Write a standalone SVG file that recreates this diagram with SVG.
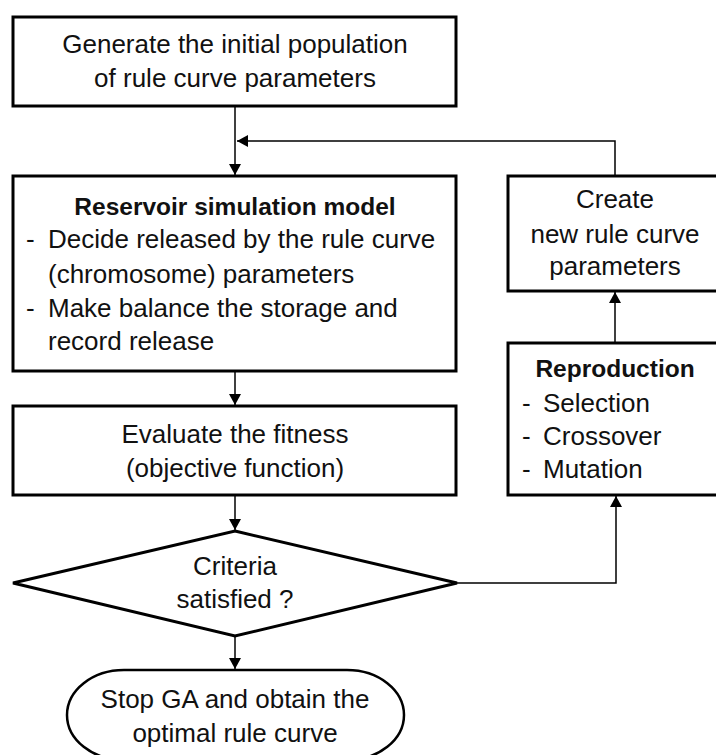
<svg xmlns="http://www.w3.org/2000/svg" width="716" height="755" viewBox="0 0 716 755">
<style>
.box{fill:#fff;stroke:#000;stroke-width:3}
.t{font-family:"Liberation Sans",Arial,sans-serif;font-size:26px;fill:#111}
.c{text-anchor:middle}
.b{font-weight:bold;font-size:24.5px}
.con{fill:none;stroke:#000;stroke-width:1.5}
</style>
<defs>
<marker id="ah" markerUnits="userSpaceOnUse" markerWidth="12" markerHeight="12" refX="11" refY="6" orient="auto">
<path d="M0,0 L11,6 L0,12 Z" fill="#000"/>
</marker>
</defs>
<rect width="716" height="755" fill="#fff"/>
<g id="connectors">
<path class="con" d="M235,106 V175" marker-end="url(#ah)"/>
<path class="con" d="M615,176 V141 H237" marker-end="url(#ah)"/>
<path class="con" d="M235,371 V405" marker-end="url(#ah)"/>
<path class="con" d="M235,495 V530" marker-end="url(#ah)"/>
<path class="con" d="M235,636 V669" marker-end="url(#ah)"/>
<path class="con" d="M457,583 H616 V496" marker-end="url(#ah)"/>
<path class="con" d="M615,343 V292" marker-end="url(#ah)"/>
</g>
<g id="init">
<rect class="box" x="13" y="17" width="443" height="89"/>
<text class="t c" x="235" y="53">Generate the initial population</text>
<text class="t c" x="235" y="87">of rule curve parameters</text>
</g>
<g id="sim">
<rect class="box" x="13" y="176" width="443" height="195"/>
<text class="t c b" x="235" y="215">Reservoir simulation model</text>
<text class="t" x="26" y="248">-</text>
<text class="t" x="48" y="248">Decide released by the rule curve</text>
<text class="t" x="48" y="283">(chromosome) parameters</text>
<text class="t" x="26" y="317">-</text>
<text class="t" x="48" y="317">Make balance the storage and</text>
<text class="t" x="48" y="350">record release</text>
</g>
<g id="eval">
<rect class="box" x="13" y="406" width="443" height="89"/>
<text class="t c" x="235" y="443">Evaluate the fitness</text>
<text class="t c" x="235" y="477">(objective function)</text>
</g>
<g id="criteria">
<path class="box" d="M235,531 L457,583 L235,636 L13,583 Z"/>
<text class="t c" x="235" y="575">Criteria</text>
<text class="t c" x="235" y="608">satisfied ?</text>
</g>
<g id="stop">
<rect x="67" y="670" width="337" height="90" rx="57" ry="45" fill="#fff" stroke="#000" stroke-width="2.5"/>
<text class="t c" x="235" y="708">Stop GA and obtain the</text>
<text class="t c" x="235" y="742">optimal rule curve</text>
</g>
<g id="create">
<rect class="box" x="508" y="176" width="215" height="115"/>
<text class="t c" x="615" y="208">Create</text>
<text class="t c" x="615" y="243">new rule curve</text>
<text class="t c" x="615" y="275">parameters</text>
</g>
<g id="repro">
<rect class="box" x="508" y="343" width="215" height="152"/>
<text class="t c b" x="615" y="377">Reproduction</text>
<text class="t" x="522" y="412">-</text>
<text class="t" x="543" y="412">Selection</text>
<text class="t" x="522" y="445">-</text>
<text class="t" x="543" y="445">Crossover</text>
<text class="t" x="522" y="478">-</text>
<text class="t" x="543" y="478">Mutation</text>
</g>
</svg>
